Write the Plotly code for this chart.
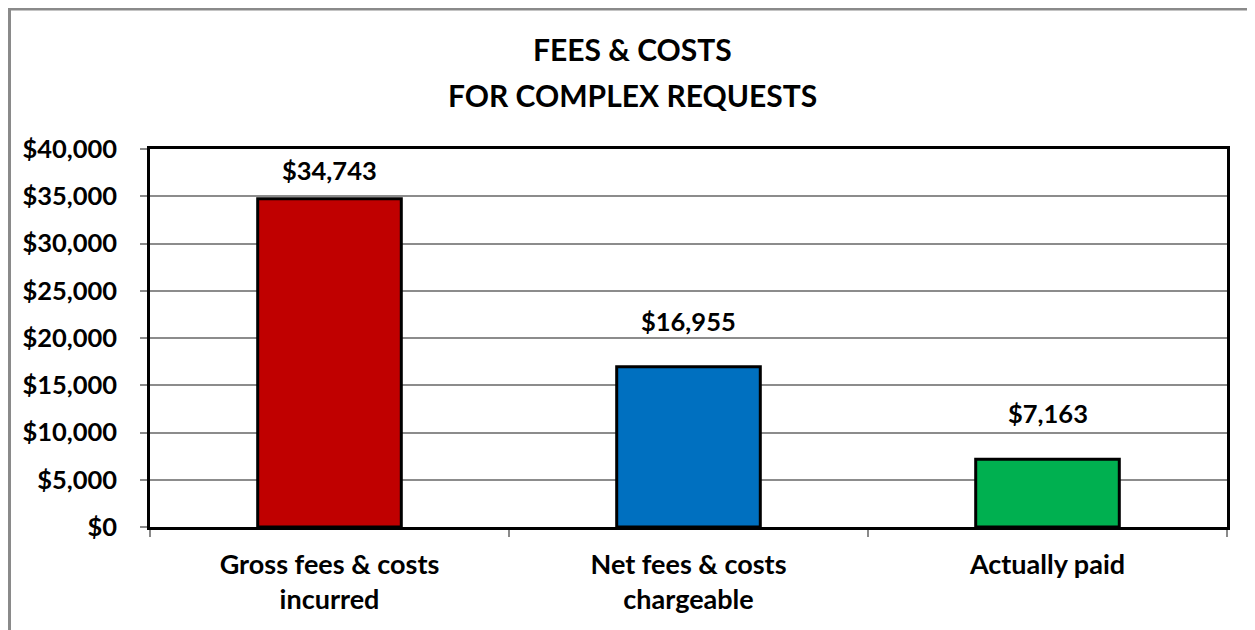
import plotly.graph_objects as go

categories = ["Gross fees & costs<br>incurred", "Net fees & costs<br>chargeable", "Actually paid"]
values = [34743, 16955, 7163]
bar_colors = ["#C00000", "#0070C0", "#00B050"]
tick_vals = [0, 5000, 10000, 15000, 20000, 25000, 30000, 35000, 40000]
tick_text = ["$" + f"{v:,}" for v in tick_vals]
title_lines = ["FEES & COSTS", "FOR COMPLEX REQUESTS"]

# page body has an 8px margin; size the figure to compensate
OFF = 8
W, H = 1255 - OFF, 630 - OFF
L, R, T, B = 150 - OFF, 28, 149 - OFF, 103
plot_h = H - T - B
pw = W - L - R
ymax = 40000
FONT = "Lato"

fig = go.Figure()
fig.add_trace(go.Bar(
    x=categories, y=values,
    marker=dict(color=bar_colors, line=dict(color="black", width=3)),
    width=0.4, hoverinfo="skip",
))

# data labels
for c, v in zip(categories, values):
    bar_top_px = v / ymax * plot_h
    shift = min(46, plot_h - bar_top_px - 21)
    fig.add_annotation(x=c, y=v, text="$" + f"{v:,}", showarrow=False,
                       yshift=shift, font=dict(family=FONT, size=25.5, color="black", weight="bold"))

def px_x(p):
    return (p - L) / pw
def px_y(p):
    return (H - B - p) / plot_h

# title lines
for i, line in enumerate(title_lines):
    fig.add_annotation(xref="paper", yref="paper", x=px_x(632 - OFF), y=px_y(49 - OFF + 46 * i),
                       xanchor="center", yanchor="middle", showarrow=False, text=line,
                       font=dict(family=FONT, size=30, color="black", weight="bold"))

# outer chart border
fig.add_shape(type="rect", xref="paper", yref="paper",
              x0=px_x(1.5), x1=px_x(1245.5), y0=px_y(700), y1=px_y(1),
              line=dict(color="#8a8a8a", width=3), fillcolor="rgba(0,0,0,0)", layer="below")

fig.update_layout(
    width=W, height=H,
    margin=dict(l=L, r=R, t=T, b=B),
    paper_bgcolor="white", plot_bgcolor="white",
    showlegend=False,
    font=dict(family=FONT, color="black"),
    bargap=0.6,
)
fig.update_xaxes(
    showline=True, linecolor="black", linewidth=2.5, mirror=True,
    ticks="outside", tickson="boundaries", ticklen=7, tickcolor="#8a8a8a", tickwidth=1.5,
    ticklabelstandoff=12,
    tickfont=dict(family=FONT, size=27, color="black", weight="bold"),
    showgrid=False,
)
fig.update_yaxes(
    range=[0, ymax], tickvals=tick_vals, ticktext=tick_text,
    showline=True, linecolor="black", linewidth=2.5, mirror=True,
    ticks="outside", ticklen=7, tickcolor="#8a8a8a", tickwidth=1.5,
    ticklabelstandoff=18,
    tickfont=dict(family=FONT, size=25.5, color="black", weight="bold"),
    showgrid=True, gridcolor="#8c8c8c", gridwidth=1.5, zeroline=False,
)

fig.write_html("out.html")
